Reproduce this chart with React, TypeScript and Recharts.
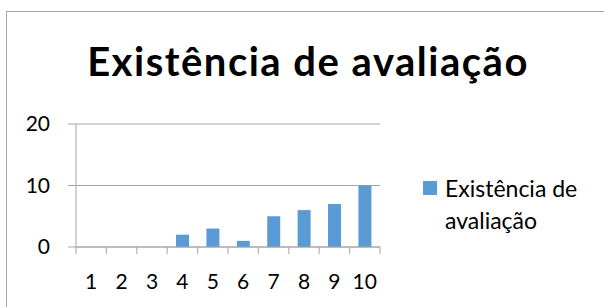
import React from 'react';
import { BarChart, Bar, XAxis, YAxis, CartesianGrid, Legend } from 'recharts';

// values
const categories = ['1', '2', '3', '4', '5', '6', '7', '8', '9', '10'];
const avaliacao = [0, 0, 0, 2, 3, 1, 5, 6, 7, 10];
const yTicks = [0, 10, 20];

const SERIES = 'Existência de avaliação';
const BLUE = '#5B9BD5';
const GRID = '#A6A6A6';
const FONT = 'Lato, "Open Sans", sans-serif';

const W = 604;
const H = 307;
const PLOT_LEFT = 76;
const PLOT_RIGHT = 380;
const PLOT_TOP = 124;
const PLOT_BOTTOM = 247;
const BAND = (PLOT_RIGHT - PLOT_LEFT) / categories.length;

const data = categories.map((c, i) => ({ name: c, value: avaliacao[i] }));

// Excel style: tick marks sit between categories, labels in the middle
function CategoryTick(props: any) {
  const { x, payload, index } = props;
  const left = x - BAND / 2;
  const last = index === categories.length - 1;
  return (
    <g>
      <line x1={left} x2={left} y1={PLOT_BOTTOM} y2={PLOT_BOTTOM + 7} stroke={GRID} />
      {last && (
        <line x1={left + BAND} x2={left + BAND} y1={PLOT_BOTTOM} y2={PLOT_BOTTOM + 7} stroke={GRID} />
      )}
      <text x={x} y={PLOT_BOTTOM + 42} textAnchor="middle" fill="#000" fontSize={21} fontFamily={FONT}>
        {payload.value}
      </text>
    </g>
  );
}

function LegendBox() {
  return (
    <div style={{ display: 'flex', alignItems: 'flex-start', fontFamily: FONT, fontSize: 23, color: '#000' }}>
      <span style={{ width: 14, height: 14, background: BLUE, marginTop: 9, marginRight: 8, flexShrink: 0 }} />
      <span style={{ lineHeight: '32px', width: 160 }}>
        Existência de
        <br />
        avaliação
      </span>
    </div>
  );
}

export default function App() {
  return (
    <div style={{ position: 'absolute', left: 0, top: 0, width: W, height: H, overflow: 'hidden', background: '#fff' }}>
      <div
        style={{
          position: 'absolute',
          left: 6,
          top: 11,
          width: W + 20,
          height: H + 20,
          border: `1px solid ${GRID}`,
        }}
      />
      <div
        style={{
          position: 'absolute',
          left: 0,
          width: 616,
          top: 35,
          textAlign: 'center',
          fontFamily: FONT,
          fontWeight: 700,
          fontSize: 40,
          letterSpacing: 1.5,
          lineHeight: '52px',
          color: '#000',
        }}
      >
        {SERIES}
      </div>
      <div style={{ position: 'absolute', left: 0, top: 0 }}>
        <BarChart
          width={W}
          height={H}
          data={data}
          margin={{ top: PLOT_TOP, right: W - PLOT_RIGHT, bottom: 0, left: 0 }}
          barCategoryGap="29%"
        >
          <CartesianGrid vertical={false} stroke={GRID} />
          <XAxis
            dataKey="name"
            height={H - PLOT_BOTTOM}
            axisLine={{ stroke: GRID }}
            tickLine={false}
            interval={0}
            tick={<CategoryTick />}
          />
          <YAxis
            width={PLOT_LEFT}
            domain={[0, 20]}
            ticks={yTicks}
            axisLine={{ stroke: GRID }}
            tickLine={{ stroke: GRID }}
            tickSize={8}
            tickMargin={18}
            tick={{ fill: '#000', fontSize: 21, fontFamily: FONT }}
          />
          <Legend
            layout="vertical"
            align="center"
            verticalAlign="middle"
            content={<LegendBox />}
            wrapperStyle={{ position: 'absolute', left: 423, top: 172, width: 180 }}
          />
          <Bar dataKey="value" name={SERIES} fill={BLUE} isAnimationActive={false} />
        </BarChart>
      </div>
    </div>
  );
}
